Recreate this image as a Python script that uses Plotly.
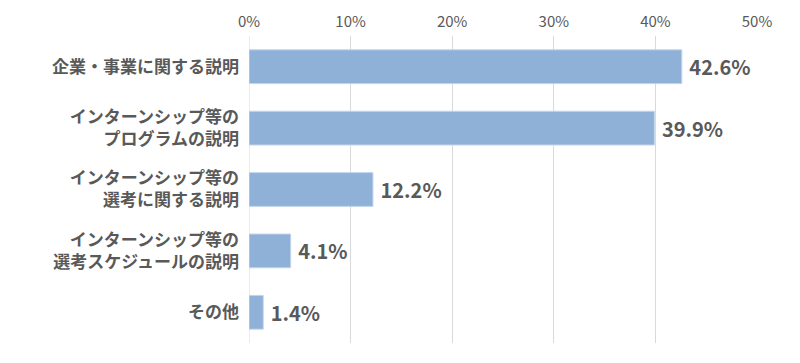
import plotly.graph_objects as go

categories = [
    "企業・事業に関する説明",
    "インターンシップ等の<br>プログラムの説明",
    "インターンシップ等の<br>選考に関する説明",
    "インターンシップ等の<br>選考スケジュールの説明",
    "その他",
]
values = [42.6, 39.9, 12.2, 4.1, 1.4]
tick_vals = [0, 10, 20, 30, 40, 50]
tick_text = ["0%", "10%", "20%", "30%", "40%", "50%"]

FONT = "Noto Sans CJK JP"

fig = go.Figure(
    go.Bar(
        x=values,
        y=categories,
        orientation="h",
        width=0.55,
        marker=dict(color="#8FB1D8", line=dict(color="#C3D5EA", width=1)),
        texttemplate=" %{x:.1f}%",
        textposition="outside",
        cliponaxis=False,
        textfont=dict(family=FONT, size=20, color="#595959", weight="bold"),
    )
)

# page body has an 8px default margin, so the figure is sized to fit inside it
fig.update_layout(
    width=784,
    height=347,
    margin=dict(l=241, r=35, t=28, b=12),
    paper_bgcolor="white",
    plot_bgcolor="white",
    showlegend=False,
)
fig.update_xaxes(
    side="top",
    range=[0, 50],
    tickvals=tick_vals,
    ticktext=tick_text,
    showgrid=True,
    gridcolor="#D9D9D9",
    gridwidth=1,
    zeroline=False,
    showline=False,
    ticks="",
    automargin=False,
    ticklabelstandoff=5,
    tickfont=dict(family=FONT, size=15, color="#595959"),
)
fig.update_yaxes(
    categoryorder="array",
    categoryarray=categories[::-1],
    showgrid=False,
    zeroline=False,
    showline=False,
    ticks="",
    automargin=False,
    ticklabelstandoff=9,
    tickfont=dict(family=FONT, size=17, color="#595959", weight="bold"),
)
fig.add_shape(type="line", xref="x", yref="paper", x0=0, x1=0, y0=0, y1=1,
              line=dict(color="#D9D9D9", width=1), layer="below")

fig.write_html("out.html")
